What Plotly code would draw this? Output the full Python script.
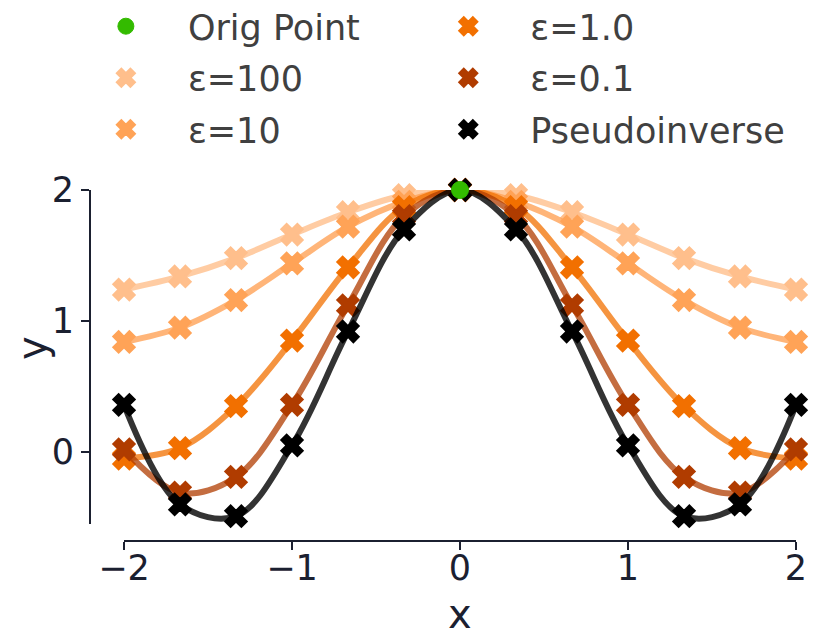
import plotly.graph_objects as go

# sample positions (13 points, -2..2 in steps of 1/3)
x_vals = [-2, -5/3, -4/3, -1, -2/3, -1/3, 0, 1/3, 2/3, 1, 4/3, 5/3, 2]

eps_100 = [1.24, 1.34, 1.48, 1.66, 1.83, 1.96, 2.0, 1.96, 1.83, 1.66, 1.48, 1.34, 1.24]
eps_10 = [0.84, 0.95, 1.16, 1.44, 1.72, 1.91, 2.0, 1.91, 1.72, 1.44, 1.16, 0.95, 0.84]
eps_1 = [-0.05, 0.03, 0.35, 0.85, 1.41, 1.87, 2.0, 1.87, 1.41, 0.85, 0.35, 0.03, -0.05]
eps_01 = [0.02, -0.31, -0.19, 0.36, 1.12, 1.80, 2.0, 1.80, 1.12, 0.36, -0.19, -0.31, 0.02]
pinv = [0.36, -0.40, -0.49, 0.05, 0.92, 1.70, 2.0, 1.70, 0.92, 0.05, -0.49, -0.40, 0.36]

orig_x = [0]
orig_y = [2]

series = [
    ('ε=100', eps_100, '#ffbf8c', 'rgba(255,191,140,0.8)', 'legend', 3),
    ('ε=10', eps_10, '#ffa357', 'rgba(255,163,87,0.8)', 'legend', 5),
    ('ε=1.0', eps_1, '#f27000', 'rgba(242,112,0,0.75)', 'legend2', 2),
    ('ε=0.1', eps_01, '#b03c00', 'rgba(176,60,0,0.75)', 'legend2', 4),
    ('Pseudoinverse', pinv, '#000000', 'rgba(0,0,0,0.8)', 'legend2', 6),
]

FONT = 'DejaVu Sans'
INK = '#1b2030'

fig = go.Figure()

for name, ys, mcol, lcol, leg, rank in series:
    fig.add_trace(go.Scatter(
        x=x_vals, y=ys, mode='lines',
        line=dict(color=lcol, width=6, shape='spline', smoothing=1),
        showlegend=False, hoverinfo='skip', cliponaxis=False
    ))
    fig.add_trace(go.Scatter(
        x=x_vals, y=ys, mode='markers', name=name,
        marker=dict(symbol='x', size=19, color=mcol, line=dict(width=2, color=mcol)),
        legend=leg, legendgroup=name, legendrank=rank, cliponaxis=False
    ))

fig.add_trace(go.Scatter(
    x=orig_x, y=orig_y, mode='markers', name='Orig Point',
    marker=dict(symbol='circle', size=17, color='#33bb00', line=dict(width=1, color='#33bb00')),
    legend='legend', legendgroup='orig', legendrank=1, cliponaxis=False
))

# trimmed axis spines (seaborn despine look)
fig.add_shape(type='line', xref='paper', yref='y', x0=0, x1=0, y0=-0.55, y1=2,
              line=dict(color=INK, width=2))
fig.add_shape(type='line', xref='x', yref='paper', x0=-2, x1=2, y0=0, y1=0,
              line=dict(color=INK, width=2))

# axis titles as annotations so they can sit where the reference has them
fig.add_annotation(text='x', xref='x', x=0, yref='paper', y=0, yanchor='middle',
                   yshift=-73, showarrow=False,
                   font=dict(family=FONT, size=40, color=INK))
fig.add_annotation(text='y', xref='paper', x=0, xanchor='center', xshift=-58,
                   yref='paper', y=0.55, yanchor='middle', textangle=-90,
                   showarrow=False, font=dict(family=FONT, size=40, color=INK))

legend_style = dict(
    font=dict(family=FONT, size=35, color='#404040'),
    bgcolor='rgba(0,0,0,0)', itemwidth=114, tracegroupgap=3,
    yanchor='top', y=1.55, xanchor='left', orientation='v'
)

# the page body adds an 8px margin, so the figure is sized and offset for it
fig.update_layout(
    width=822, height=627,
    plot_bgcolor='white', paper_bgcolor='white',
    margin=dict(l=82, r=34, t=182, b=94, autoexpand=False),
    font=dict(family=FONT, color=INK),
    legend=dict(x=-0.037, **legend_style),
    legend2=dict(x=0.448, **legend_style),
)
fig.update_xaxes(
    range=[-2.2024, 2], tickvals=[-2, -1, 0, 1, 2], ticktext=['−2', '−1', '0', '1', '2'],
    showgrid=False, zeroline=False, showline=False,
    ticks='outside', ticklen=8, tickwidth=2, tickcolor=INK, ticklabelstandoff=-12,
    tickfont=dict(family=FONT, size=35, color=INK)
)
fig.update_yaxes(
    range=[-0.6794, 2], tickvals=[0, 1, 2],
    showgrid=False, zeroline=False, showline=False,
    ticks='outside', ticklen=8, tickwidth=2, tickcolor=INK,
    tickfont=dict(family=FONT, size=35, color=INK)
)

fig.write_html('out.html')
